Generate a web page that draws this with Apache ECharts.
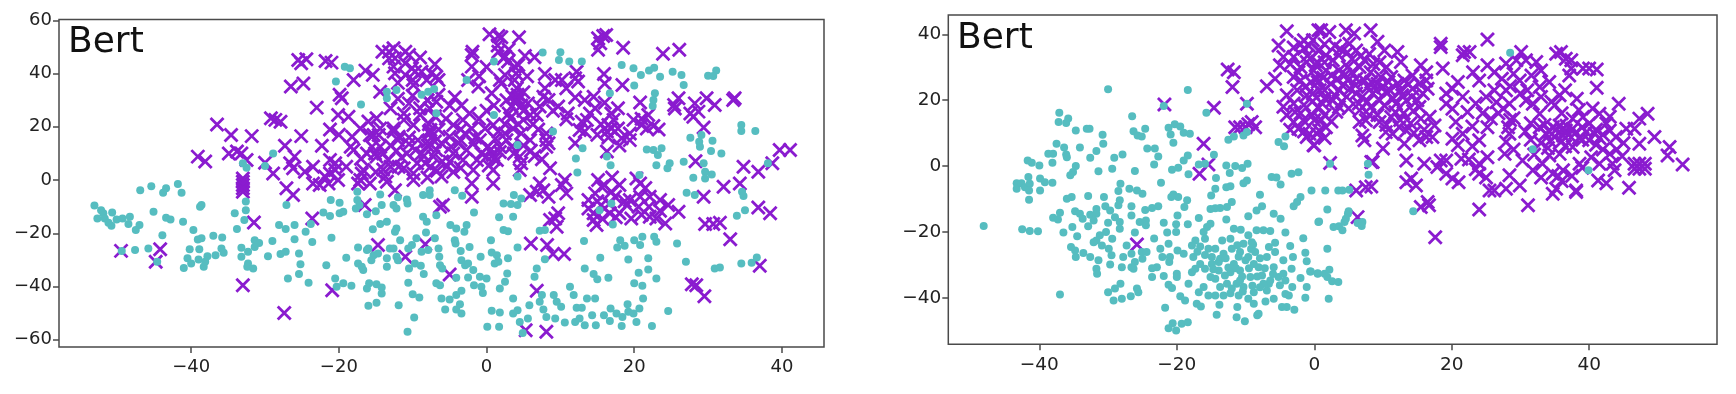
<!DOCTYPE html>
<html><head><meta charset="utf-8">
<style>html,body{margin:0;padding:0;background:#fff}#c{width:1736px;height:394px}</style>
<script src="https://cdn.jsdelivr.net/npm/echarts@6/dist/echarts.min.js"></script>
</head><body><div id="c"></div>
<script>
const panelLabel = 'Bert';
const leftXTicks = [-40,-20,0,20,40];
const leftYTicks = [-60,-40,-20,0,20,40,60];
const rightXTicks = [-40,-20,0,20,40];
const rightYTicks = [-40,-20,0,20,40];
const leftCircles = [[-53.1,-9.6],[-52.2,-11.3],[-51.9,-12.5],[-52.7,-14.4],[-51.7,-14.4],[-51.2,-16],[-50.7,-12.2],[-50.8,-17.2],[-50.1,-14.8],[-49.3,-14.4],[-48.3,-13.8],[-48.5,-16.5],[-47,-16.9],[-47.5,-18.8],[-47.6,-26.3],[-49.4,-26.6],[-46.9,-3.8],[-45.4,-2.3],[-43.4,-3.1],[-43.8,-4.8],[-41.8,-1.5],[-41.3,-4.8],[-45.1,-11.9],[-43.4,-14.2],[-42.8,-14.8],[-41.1,-15.7],[-38.6,-9.4],[-38.8,-10],[-39.7,-18.8],[-43.9,-20.7],[-45.8,-25.7],[-44.6,-30.7],[-40.2,-26],[-38.9,-26],[-39.1,-22.3],[-38.6,-21.9],[-37,-20.9],[-35.8,-21.6],[-35.9,-25.7],[-35.6,-27.3],[-36.7,-28.2],
[-41,-33],[-40.5,-29.4],[-40,-31.3],[-39,-29.8],[-38.3,-32.6],[-38.1,-30.7],[-37.8,-28.6],[-33.2,-25.4],[-33.2,-28.8],[-32.3,-26.9],[-31.4,-22.6],[-30.8,-23.6],[-31.4,-25.1],[-32.3,-31.3],[-32.4,-32.6],[-31.6,-33.2],[-29.6,-28.6],[-29,-22.9],[-27.9,-27.8],[-27.2,-26.9],[-28.1,-16.9],[-27.2,-18.4],[-26,-16.9],[-26,-22.2],[-25.4,-27.6],[-25.2,-31.6],[-25.4,-35.3],[-26.9,-37],[-24.1,-38.6],[-24.5,-19.4],[-23.8,-16.5],[-23.6,-23.3],[-21,-21.7],[-22.1,-12.2],[-21.2,-13.5],[-19.9,-12.5],[-19.4,-11.9],[-21.1,-7.5],[-19.9,-8.5],[-27.1,-9.4],[-34.1,-12.5],[-32.8,-15],[-33.8,-18.4],[-32.6,-11.3],[-32.6,-8.1],[-33,6.3],[-32.5,4.6],[-28.9,10],[-30,5.3],[-19.2,42.6],[-18.5,42],[-20.4,37],[-17,28.4],[-13.5,33.2],[-13.5,30.7],[-12.2,33.8],[-8.8,32],[-7.9,33.2],
[-17.5,-4.4],[-17.5,-7.5],[-17.7,-10.7],[-17.2,-9.4],[-16.2,-12.8],[-15,-11.7],[-14.4,-5.4],[-14.2,-9.4],[-12.6,-9.4],[-12.2,-10.7],[-12,-6.5],[-10.8,-7.3],[-10.7,-8.8],[-8.6,-13.8],[-8.1,-15.7],[-7.7,-5.6],[-8.6,-5.6],[-13.5,-15.7],[-14.4,-16.5],[-15.4,-18.5],[-12.2,-18.2],[-12.4,-19.4],[-11.7,-22.6],[-9.5,-21.9],[-10.1,-24.4],[-10.6,-25.7],[-8.2,-19.7],[-8.8,-26.9],[-7.9,-26.3],[-17.4,-25.3],[-16.2,-26.3],[-16,-25.7],[-15.3,-28.2],[-14.7,-27.6],[-15.6,-30.1],[-13.5,-29.4],[-13.5,-32.6],[-13.1,-25.7],[-12.6,-25.7],[-12.2,-28.8],[-12,-30.1],[-19,-29.2],[-17.4,-31.3],[-16.9,-32.6],[-16.7,-33.8],[-21.7,-32],[-20.5,-37],[-20.3,-40.1],[-19.4,-38.8],[-18.3,-39.7],[-16.2,-40.7],[-15.9,-38.8],[-14.9,-39.1],[-14.2,-40.4],[-14.2,-42.6],[-16,-47.2],[-14.9,-46.1],[-11.9,-47],[-10.6,-38.6],[-10,-42.9],[-9.1,-44.1],[-9.8,-51.6],[-10.7,-57],[-10.5,-33.2],[-9.7,-31.3],[-8.9,-32.2],[-8.5,-35.3],
[7.6,47.9],[10,48],[9.8,45.1],[11.2,44.5],[12.9,44.5],[18.3,43.2],[19.9,42],[20.9,39.5],[22,41.1],[22.7,42.2],[23.5,38.8],[25.2,40.7],[26.4,39.5],[20,35.5],[26.7,35.7],[30,39.2],[31.1,41.1],[30.7,39.1],[1,44.5],[-2.7,37.6],[-7.1,34.2],[-6.8,25.1],[1,24.4],[16.7,32.6],[22.8,32.6],[22.6,30.1],[22.5,27.8],[9,18.2],[4.2,13.2],[13,11.9],[12.1,8.1],[16.3,8.8],[16.8,5.6],[4.2,1.3],[12.3,2.8],[21.7,11.5],[22.6,11.3],[23.7,11.9],[23.2,9.4],[23,5.6],[24.8,6.3],[24.5,4.4],[26.7,6.9],[27.6,15.9],[29.1,16.9],[28.8,14.4],[28.9,12.5],[30.6,14.8],[30.4,10.9],[31.8,10],[29.4,6.3],[29.6,3.1],[30.5,2.1],[29.6,0.6],[28,0.9],[27.1,-4.8],[28.2,-5.6],[34.5,20.7],[34.5,18.4],[36.4,18.4],[38.1,6.3],[34.6,-4.4],[34.8,-6],[35,-11.3],[33.9,-13.4],[34.5,-31.3],[35.9,-31.1],[36.6,-29.1],[30.9,-33.2],[31.6,-32.8],[27,-30.7],[25.8,-23.8],[24.6,-49.2],[20.7,1.9],[16.9,-8.8],[15.3,-11.3],[17.1,-16.7],[13.2,-22.9],[18.1,-22.6],[18.7,-24.7],[17.7,-25.3],[20,-22.6],[21.1,-21.3],[20.8,-24.4],[22.7,-21.3],[23,-23.2],[15.4,-29.2],[13.3,-33.2],[14.5,-35.3],[15,-37.3],[16.5,-36.7],[19.2,-29.8],[21.9,-29.4],[21.9,-33.6],[20.6,-34.8],[23,-37],[20,-38.8],[21.1,-39.7],[21.2,-44.5],
[11.3,-40.1],[11.8,-43.2],[13.6,-44.5],[14.7,-44.5],[9.1,-43.2],[9.5,-45.7],[10.1,-47.6],[7.5,-43.2],[7.2,-45.7],[7.7,-48.6],[8.1,-51.4],[9.3,-52],[10.6,-53.5],[12.2,-48],[12.9,-48],[12,-53.3],[12.6,-52],[13.3,-54.5],[14.3,-50.8],[14.8,-54.5],[15.9,-50.8],[16.7,-52.9],[16.8,-48.2],[17.6,-50.1],[18.3,-54.8],[18.4,-51.4],[19.1,-46.6],[19.2,-49.5],[19.9,-50.1],[20.3,-53.3],[20.7,-48.2],[22.4,-54.8],[0.1,-55.1],[1.7,-55.1],[0.7,-49.1],[1.8,-49.7],[3.6,-50.1],[4.2,-48.9],[4.5,-53.3],[5.6,-52],[5.8,-47],[4.9,-57.4],[3.6,-44.5],[6.8,-33.2],[6.5,-36.3],[7.9,-29.7],[4.2,-25.3],[2.9,-29.4],[0.6,-22.6],[-2.3,-25.1],[-0.8,-28.8],[0.7,-27.2],[1.4,-28.2],[1.1,-31.3],[1.6,-30.7],[2.8,-35.1],[2.5,-38.2],[1.8,-40.7],[-0.9,-36.3],[0,-37],[-1.8,-33.8],[-2.5,-36.6],[-1.7,-39.5],[-0.7,-40.1],[-0.5,-42.4],[-3.4,-41.6],[-4.1,-43.2],[-5,-44.9],[-6.1,-44.5],[-5.6,-48.6],[-3.6,-46.6],[-4.1,-48.6],[-3.4,-50.1],[-6.5,-25.7],[-6.4,-28.8],[-6.3,-32],[-6,-33.2],[-7,-21.9],[-4.3,-22.6],[-4.2,-23.8],[-3.5,-26.6],[-3.4,-30.1],[-2.9,-32],[-2.5,-31.3],[-4.1,-36.7],[-6.8,-38.8],[-6.3,-39.5],[-4.9,-16.9],[-4.1,-18.2],[-2.7,-16.9],[-3,-19.4],[-1.7,-12.2],[-4.3,-3.8],[-3.3,-5.9],[-6.8,-13.2],[-7.7,-3.8],[2.3,-8.8],[3.3,-9],[4.2,-9.4],[3.7,-5.6],[4.7,-6.9],[1.7,-14],[3.6,-13.8],[2.3,-18.8],[2.9,-19.2],[7.2,-19],[7.9,-18.8]];
const leftCrosses = [[-49.5,-26.6],[-44.2,-26],[-44.8,-30.7],[-39.1,8.8],[-38.1,7],[-36.5,20.9],[-34.6,16.9],[-31.8,16.5],[-34.9,10],[-33.8,10.7],[-33.2,10],[-32.5,7.5],[-33,0.6],[-33,-0.6],[-33,-1.9],[-33,-3.1],[-33,-4.4],[-31.5,-15.9],[-33,-39.5],[-27.4,-49.9],[-30,6.5],[-28.9,2.5],[-27.1,-3.1],[-26.2,-5.6],[-29.2,23.2],[-28.6,22.6],[-27.9,21.9],[-27.3,12.9],[-26,8.8],[-26.6,6.3],[-26.2,4.4],[-25.1,16.5],[-24.6,3.1],[-23.5,5],[-23.5,-1.3],[-22.3,12.9],[-22.6,-1.9],[-21.9,1.3],[-21.2,2.5],[-21.4,-1.3],[-20.5,3.8],[-20.1,0],[-21.2,7.5],[-20.5,6.3],[-23.6,-14.4],[-14.7,-24.4],[-16.5,-9.4],[-20.9,-41.4],[-11,-28.8],[-8.3,-24.1],[-26.5,35.1],[-24.8,36.3],[-25.5,45.1],[-24.4,45.4],[-25.1,43.9],[-21.8,44.7],[-21,44.1],[-23,27.2],[-19.9,32],[-19.6,30.7],[-18,37.6],[-16.4,41.1],[-15.4,39.5],[-14.4,33.2],[-14.1,48.2],[-13.2,48.2],[-12.6,49.5],[-13.2,45.7],[-12.4,45.7],[-12.6,42.6],[-11,48.2],[-10.5,47],[-11,43.9],[-10.1,42],[-9.7,40.7],[-8.8,40.7],[-10,37.6],[-8.1,37.6],[-12.4,40.1],[-9.9,35.7],[-20.1,24.4],[-18.7,23.8],[-21.2,19],[-17.1,19.4],[-18.2,16.3],[-15.3,16.9],[-18,11.3],[-18.4,12.5],[-14.9,23.2],[-14.4,19.4],[-15.8,16.9],[-14.6,16.9],[-12.6,18.2],[-11.2,25],[-10.5,28.8],[-11.2,22.6],[-9.9,20.7],[-12.6,19.4],[-11.9,16.3],[-7.8,18.2],[-7.6,18.8],[-19,5],[-16.9,2.5],[-17.1,0],[-17.4,-1.3],[-16.7,3.8],[-16.2,10],[-15.1,10],[-14.4,12.5],[-15.8,-1.3],[-14.9,8.8],[-14,10],[-13.3,7.5],[-13.7,1.3],[-13.5,-0.6],[-12.4,-3.8],[-11.9,5],[-10.8,10],[-9.6,11.3],[-9.9,0],[-9.9,2.5],[-9.4,6.3],[-8.3,6.3],[-11.2,4.4],[-7.6,5],
[0.4,54.8],[1.6,54.1],[2,53.6],[4.4,53.6],[-1.9,48.2],[-2,47],[-2,42.6],[1.6,48.2],[2.3,45.7],[2.9,44.5],[3.8,42.6],[5.2,46.6],[6.5,46.1],[4.3,43.2],[15.1,53.3],[15.8,54.1],[16.2,54.5],[15.4,51.4],[15.1,48.9],[18.5,49.7],[23.9,47.4],[26.1,48.9],[15.9,39.8],[16,36.3],[18.4,35.7],[-6.8,38.8],[-7.5,40.1],[-6.5,37.6],[-2.5,37.6],[-1.1,35.1],[0.7,32.6],[1.8,37.6],[2,36.3],[3.8,37.6],[4.1,34.5],[7.9,39.8],[9.3,37.6],[10.2,37.6],[10.8,34.5],[12.2,40.7],[12,38.2],[12.4,37],[7.9,34.5],[-4.3,31.1],[-6.8,29.4],[-7.7,26.9],[4.1,30.7],[4.3,30.1],[3.4,27.6],[5.6,28.8],[7.2,27.6],[7.7,31.3],[8.4,30.1],[9.7,27.6],[13.3,30.1],[14.5,31.3],[20.8,29.1],[25.4,28.2],[26,30.7],[25.5,26.9],[28.2,28.8],[27.6,25],[28,23.8],[28.7,25.7],[29.8,30.7],[30.9,28.2],[33.6,30.7],[33.4,30.1],[10.8,22.8],[29.4,19.7],[14,25],[13.6,22.6],[12.9,21.9],[12.6,18.8],[13.3,18.2],[12,13.8],[16.9,25],[17.2,22.6],[16.5,20.7],[16.9,19.4],[16.3,18.2],[17.8,19.4],[18.3,15.7],[19.4,15],[19.9,22.6],[21,20.7],[21.9,24.4],[21.7,19.4],[22.6,20.3],[19.4,17.5],[16.3,10.7],[-2.3,25],[-3.2,22.6],[-4.5,20.7],[-3.8,13.8],[-5,16.3],[-2.9,17.5],[-2,19.4],[-0.2,19.4],[0.9,20.7],[3.2,23.2],[1.6,18.2],[2.5,17.5],[3.6,19.4],[5,22.6],[5.9,24.4],[4.7,17.5],[5.9,15],[6.8,24.4],[8.1,17.5],[8.1,15],[8.1,12.5],[8.4,13.8],[-0.7,10],[0,8.8],[0.9,9.4],[1.8,12.5],[2.7,15],[3.4,12.5],[0.2,12.5],[-0.9,15],[-1.8,13.8],[-2.7,11.3],[-3.2,7.5],[-1.8,3.8],[-2,-1.3],[-2,-6.3],[0.9,3.8],[0.9,-1.3],[1.4,7.5],[4.5,8.8],[4.7,6.3],[4.5,3.8],[7.5,7.8],[8.6,4.4],[-6.1,13.8],[-7.7,17.5],[-6.8,11.3],[-7.2,8.8],[-5,6.9],[-6.1,1.3],[-5.4,5],[-5.9,-9.4],[-6.3,-10],[10.6,0],[10.2,-1.9],[10.8,-5],[7.2,-1.3],[6.8,-4.4],[7.7,-3.8],[8.4,-6.3],[5.9,-5.6],[15.1,0],[15.6,-2.5],[14.7,-5],[13.8,-7.5],[13.8,-10.7],[14.5,-12.5],[14.9,-16.9],[14.5,-15],[16.9,-4.4],[18,-1.9],[17.4,-6.3],[16.7,-12.5],[18,-12.5],[19.6,-14.4],[20.3,0.6],[20.8,-1.3],[19.4,-7.5],[20.8,-6.3],[20.6,-10],[22.1,-6.3],[23.5,-7.5],[24.6,-9.4],[26,-11.9],[22.1,-13.8],[24.2,-16.3],[23,-14.4],[9.7,-12.5],[9.3,-14.4],[9.5,-17.5],[8.6,-15],[29.4,-6.3],[32.1,-2.5],[34.3,-1.3],[34.8,5],[36.8,3.1],[38.7,6.3],[39.7,11.3],[41.1,11.3],[36.8,-10.3],[38.4,-12.5],[29.6,-16.5],[30.7,-16.5],[31.6,-16],[33,-22.2],[28.3,7.1],[37,-32.2],[27.8,-39.1],[28.4,-39.5],[29.5,-43.6],[6,-23.8],[8.2,-24.4],[9,-27.8],[10.5,-27.8],[6.8,-41.6],[5.3,-56.4],[8.1,-57],[-5,-35.5],
[-7,24],[-5.5,23],[-5,28],[-3.4,28],[-3.5,19],[-6.5,19],[-1,23],[0,26],[1,28],[2.7,30],[3.5,31.5],[4.2,32],[5,33],[3.9,29],[4.7,28],[3,25],[5,26],[6.3,21],[7,19],[2.5,21],[4.3,21],[1.2,15.5],[0.6,11.5],[1,8],[-1.3,7.5],[0.3,5.5],[1.8,10.5],[3.7,10],[5,13],[6,11],[6.5,9],[-4.5,10],[-4.8,12.5],[-3.5,15],[-1.5,16],[-8,13],[-8.5,9],[-7,14.5],[-6,7],[-4.5,3],[-6.7,3.5],[-8,1],[-3.5,4.5],[-8,30],[-9,27],[-9,24.5],[-6.5,32],[-1,39],[2.5,39.5],[4,40],[5.5,39],[0,42.5],[2.5,46.5],[3,49],[1.5,50.5],[9,26],[11,25],[12,31],[14.7,27],[16,29],[16.5,16],[18,13],[21,23],[23.3,19],[17.8,27],[15,17],[15.5,21],[21.5,-3],[18.7,-8],[16.6,-9],[15.5,-9.5],[15,-8],[21,-13],[17.5,-14],[15.7,-14.5],[16,-2],[17,1],[19,-9.5],[22,-10],[23.5,-11.5],[-12,15],[-10.5,16],[-13,13],[-12.2,11],[-11.5,8.5],[-13,5],[-14,4],[-15,3],[-8.8,10],[-8,14.5],[-7.8,21],[-9.3,15],[-15.5,12.5],[-17,8],[-20,17],[-10.5,13.5],[-16,22],[-13,27],[-12,30.5],[-10,31.7],[-8,30],[-12,36.5],[-11,39.5],[-9,46],[-7,43.5]];
const rightCircles = [[-48.1,-18.2],[-42.5,-19.2],[-41.4,-19.7],[-40.2,-19.8],[-37,-39],[-30,23.3],[-18.4,23.1],[-21.9,18.2],[-37.1,16.2],[-37.2,13.4],[-36.1,13.1],[-35.8,14.4],[-34.7,10.8],[-33.1,11.3],[-32.7,11.3],[-30.8,9.5],[-30.7,6.8],[-31.7,4.6],[-32.6,2.5],[-34.1,5.6],[-37.5,6.8],[-36.4,5.6],[-38.7,3.7],[-38,3.7],[-36.1,3.5],[-36,2.7],[-38.1,1],[-41.7,1.7],[-41.1,1],[-40,0.2],[-41.6,-3.3],[-43.3,-5.2],[-43.3,-6.9],[-42.6,-5.2],[-42.1,-6.4],[-41.4,-5.4],[-41.5,-7.4],[-41.5,-10.2],[-39.9,-3.8],[-39.9,-7.4],[-39.2,-4.9],[-38.1,-5.1],[-34.7,0],[-35.1,-1.8],[-35.5,-2.8],[-31.4,-1.6],[-29.4,-0.8],[-29.1,2.5],[-27.9,3.5],[-26.1,-1.5],[-26.5,15.1],[-26.3,10.6],[-25.7,9.3],[-25.1,9],[-24.6,11.3],[-21.2,11.6],[-20.3,12.7],[-19.5,12],[-19,10.1],[-18.1,9.8],[-20.9,9.6],[-20.5,7.1],[-24.3,5.3],[-23.2,5.3],[-22.7,2.9],[-23.3,0.5],[-20.7,-1.1],[-19.8,-0.5],[-19,1.7],[-18.4,3.2],[-18.3,-2.5],[-16.8,0.5],[-15.9,0.7],[-15.7,16.2],[-12.5,8],[-11.7,9],[-10.3,9.3],[-9.8,10.3],[-9.8,18.9],[-14.6,3.4],[-14.3,-3.6],[-12.8,0.2],[-12.3,-2.1],[-11.5,0],[-10.5,-0.6],[-9.7,0.7],[-9.8,-4.4],[-10.3,-5.2],[-12.2,-6.1],[-12.8,-6.4],[-14.4,-6.9],[-15,-8.9],[-5.2,7.3],[-4.2,9],[-4.4,6],[-6.2,-3.3],[-5.5,-3.5],[-4.9,-5.6],[-3.3,-2.3],[-2.3,-1.9],[-0.4,-7.4],[-2,-9.4],[-2.5,-10.9],[-3,-12.2],[-7.9,-8.7],[-7.6,-12.2],[-8.4,-13.5],[-9.6,-15.2],[-5.9,-14.5],[-4.9,-16],[0.6,-17],[-1.6,-21.9],[-1.3,-26.3],[-1.1,-28.9],[-0.6,-32],[0.5,-32.7],[-1.1,-36.7],[-1.3,-40],[-2,-34],[-3.1,-27.6],[-3.5,-24.3],[-4.2,-20.2],[-3.3,-31.2],[-4.5,-28.6],[-5.7,-23.3],[-5.7,-26.1],[-6.4,-19.7],[-7.4,-19.5],[-8.4,-19.5],[-9.6,-21],[-10.7,-19.3],[-11.7,-19],[-12.7,-12.4],[-12,-10.9],[-12.8,-16.2],[-13.7,-12.7],[-14.4,-12.8],[-15.1,-13],[-18.5,-10.4],[-18.9,-12.4],[-19.9,-15],[-20.5,-8.6],[-19.8,-9.4],[-20.8,-9.4],[-22.3,-5.1],[-22.7,-12.2],[-23.6,-12.7],[-24.6,-13.3],[-25,-8.4],[-25.8,-7.4],[-26.9,-6.9],[-28.2,-5.4],[-28.5,-7.6],[-28.3,-10.4],[-28.5,-11.9],[-26.6,-12.2],[-26.6,-15],[-25.4,-17],[-24.5,-16.5],[-24.5,-18],[-30.6,-9.4],[-32.9,-9.1],[-35.3,-9.4],[-36,-9.9],[-34.8,-13.7],[-34.1,-14.5],[-33.7,-16],[-37,-14.2],[-38,-15.7],[-37.3,-16.2],[-32.6,-14.8],[-31.7,-13],[-30.4,-12.2],[-29.7,-13.5],[-29,-15.5],[-28.3,-17],[-28.3,-19],[-30,-17.2],[-31.7,-14.5],[-32.1,-16.5],[-32.9,-18.3],[-35.2,-18.5],[-36.5,-20.2],[-34.5,-21.3],[-26.1,-20.2],[-21.9,-17.2],[-20.1,-17.7],[-18.4,-17.7],[-16.8,-15.8],[-21.4,-20.2],[-20.1,-20],[-23.3,-22],[-21.2,-23.6],[-19.9,-25.6],[-19,-26.6],[-31.2,-21],[-31.7,-22.6],[-32.1,-23.1],[-30.3,-20],[-29.4,-22.1],[-30.9,-24.1],[-29.9,-25.1],[-29.5,-27.1],[-35.4,-24.6],[-34.8,-25.6],[-34.7,-27.6],[-33.6,-26.4],[-32.6,-27.6],[-31.4,-28.6],[-31.7,-31.2],[-31.6,-32.7],[-29.7,-29.9],[-27.8,-27.6],[-26.6,-26.6],[-27.3,-24.1],[-26.6,-30.7],[-26.1,-29.1],[-28,-30.7],[-26.3,-31.2],[-25,-28.1],[-25.1,-26.1],[-24.4,-26.1],[-28.2,-35.7],[-29,-37.2],[-30,-38.3],[-29.2,-40.8],[-28,-40.3],[-26.7,-39.5],[-25.8,-37.2],[-25.6,-38.3],[-23.6,-33.7],[-21.9,-33.4],[-22.9,-30.7],[-23.6,-31],[-22.4,-25.1],[-22.1,-27.6],[-21.1,-29.1],[-21,-27.6],[-20,-32.7],[-20,-33.7],[-21.2,-36],[-20.7,-37],[-19.5,-39.5],[-18.8,-40.8],[-21.7,-43],[-17.1,-41.8],[-16.5,-42.6],[-21.2,-49.2],[-20.6,-47.7],[-20.1,-49.9],[-19.3,-47.9],[-18.4,-47.4],[-14.2,-45.1],[-11.3,-45.9],[-11.2,-42.8],[-10.1,-47.1],[-8.3,-45.3],[-8.1,-44.8],[-13.8,-42.1],[-15.4,-39.3],[-14.4,-39.3],[-13.2,-39.3],[-12.2,-38.6],[-11,-39.3],[-9.6,-40.3],[-8.8,-38.3],[-8.8,-41.8],[-7.1,-41.1],[-4.7,-42.8],[-4,-42.8],[-2.9,-43.6],[-5.9,-40.3],[-4.2,-38.8],[-3.7,-39.3],[-5,-36.2],[-3.2,-36.7],[-6.9,-37.8],[-6.6,-35.7],
[-15.6,-18.5],[-15.1,-17.5],[-16.1,-20],[-15.9,-22.1],[-15.4,-25.1],[-14.4,-25.1],[-13.4,-22.6],[-12.2,-22.1],[-12,-25.1],[-13.2,-26.6],[-13.9,-29.1],[-14.9,-29.7],[-13.9,-31.7],[-13,-33.2],[-12.2,-32.2],[-11.7,-29.7],[-10.8,-26.1],[-10.3,-23.6],[-9.1,-23.1],[-8.6,-26.1],[-8.8,-29.7],[-8.1,-30.7],[-7.6,-33.2],[-7.4,-35.7],[-9.3,-33.7],[-10.3,-36.7],[-11.3,-35.7],[-10.8,-31.7],[-10,-28.6],[-9.6,-27.6],[-6.9,-27.6],[-6.6,-24.6],[-5.9,-30.7],[-6.4,-34.7],[-5.2,-33.7],[-4.5,-32.7],[-4.2,-34.7],[-17.3,-22.6],[-17.8,-24.1],[-17.6,-27.6],[-16.6,-29.7],[-15.9,-31.2],[-15.1,-33.7],[-14.4,-34.2],[-17.8,-32.2],[-17.3,-31.2],[-18.3,-35.7],[-16.8,-38.3],[-16.1,-36.7],[-13.7,-36.7],[-12.7,-35.7],[-14.9,-27.6],[-13.7,-28.1],[-12.9,-28],[-11.4,-31],[-10.5,-33.5],[-9.5,-31],[-8.3,-33.5],[-7.9,-28],[-7.2,-31],[-11.2,-24],[-11,-27.5],[-9.2,-25.2],[-12.5,-30.8],[-14.7,-31.3],[-16.6,-24.4],[-17,-26],[-15.9,-27],[-7.9,-36.8],[-9,-36.3],[-10.8,-34.7],[-6,-32.8],[-8.9,-23.8],[-10.4,-38.1],[-12,-37.2],
[1.6,-7.4],[3.5,-7.4],[4.1,-7.4],[5.1,-7.2],[7.8,0.7],[7.9,-2.6],[2.3,0.7],[1.9,-13.2],[0.7,-16.8],[2.8,-18.5],[3.6,-18.3],[4.1,-19.5],[4.4,-17],[4.9,-14.5],[5,-13.7],[4.6,-16],[6.3,-17.3],[7,-17],[6.9,-18.2],[14.4,-13.7],[28.5,34.4],[31.8,5.1],[39.9,-1.3],[1.9,-25.1],[-0.5,-32],[0.5,-32.5],[1.5,-32.7],[2.2,-31.5],[1.9,-33.7],[2.6,-35],[3.5,-35.2],[2.1,-40.3]];
const rightCrosses = [[-25.8,-23.8],[-21.8,18.7],[-9.8,18.9],[-14.6,17.7],[-16.1,6.8],[-15.4,0.5],[-16.7,-2.3],[-12.6,29.3],[-11.7,28.5],[-11.9,24],[-11.5,11.8],[-10.8,11.8],[-10,11.8],[-9.6,12.7],[-9.1,13.4],[-8.6,11.8],[-6.9,24.2],[-5.7,26.5],[-4,21.5],[-4,40.9],[-5.2,36.6],[-4.5,33.1],[-5,30.6],[-3,33.1],[-1.5,38.2],[-1.5,35.6],[-2.3,28.5],[-1.1,31.6],[0.6,41.2],[0.6,35.1],[0.4,31.6],[-0.1,29],[-1.3,24],[0.4,26.5],[-4,15.4],[-2.8,16.4],[-3,13.4],[-1.6,13.9],[-2.3,11.3],[-1.1,8.8],[-0.1,6.3],[0.4,9.8],[-0.3,15.4],[0.6,17.9],[-1.1,21.5],
[1,41.2],[2.2,40.7],[4.6,41.2],[5.8,40.2],[8.2,41.2],[9.2,37.7],[10.2,35.1],[12.1,34.6],[12.6,31.6],[-0.2,38.2],[0.7,35.1],[1.7,33.6],[2.7,32.1],[3.6,33.6],[5.1,37.1],[6.1,35.1],[7.3,32.1],[6.6,30.1],[4.9,30.1],[3.6,29],[1.7,29],[0.2,30.6],[0.5,25.5],[2.4,25],[3.4,26.5],[4.1,24.5],[4.9,26],[6.1,26.5],[7.3,26],[8.3,25.5],[9.2,25],[9.7,27],[11.2,27],[12.1,25],[13.1,26],[10.4,22.5],[9,23],[7,21],[6.1,22],[3.6,23],[15.5,30.6],[16.3,28.5],[14.3,27.5],[15.3,25],[16.3,26],[14.3,23.5],[15.8,22],[13.4,19.9],[11.9,18.9],[15.3,17.9],[10.2,18.4],[8.2,17.9],[6.6,16.9],[7.5,13.9],[6.6,13.4],[9.5,13.4],[11.2,14.9],[12.4,11.8],[13.4,10.8],[15.5,14.4],[17.5,12.3],[16.3,8.8],[17.2,8.8],[15.3,7.8],[13.1,6.8],[10.4,10.3],[7,9.3],[10,5.3],[7.3,7.8],[13.4,1.7],[8.5,1.2],[11.4,9.8],[18.4,37.1],[18.4,36.1],[18.7,29.6],[21.8,34.6],[22.6,34.6],[21.6,33.6],[25.2,38.4],[20.9,25.5],[20.1,23.5],[19.2,22],[19.2,18.9],[20.1,17.4],[21.6,21],[22.3,16.4],[20.6,13.4],[21.6,9.8],[20.1,8.3],[20.9,6.3],[21.4,2.2],[19.2,1.7],[18.4,1.7],[17.9,-0.3],[16,0.7],[19.2,-2.3],[20.1,-3.8],[21,-4.9],[23.1,28.5],[24,26],[25.2,30.6],[26.2,23],[26.2,28.5],[27.9,31.1],[29.4,32.1],[30.1,34.6],[30.8,32.1],[32.3,31.6],[29.9,26],[31.6,27.5],[32.8,24],[34.2,25.5],[35.7,21.5],[30.8,19.9],[27.9,23],[26.5,19.4],[28.4,18.9],[31.8,18.9],[32.8,15.9],[25.7,14.4],[25.2,11.8],[24,7.8],[25.2,2.7],[24,0.7],[24,-2.3],[28.2,11.8],[28.4,9.8],[27.9,7.3],[27.7,3.7],[30.3,1.7],[31.8,-1.3],[28.4,-2.8],[29.9,-5.9],[27.9,-6.9],[31.1,-11.9],[24,-13.2],[25.5,-7.4],[26.2,-7.4],[35.2,34.1],[35.9,34.6],[36.6,32.6],[37.4,32.1],[37.1,27.5],[37.4,29.6],[39.1,29.6],[40,29.6],[41.1,29.3],[41.1,23.8],[38.2,20.4],[44.3,18.9],[48.5,15.9],[47.3,14.4],[32.8,11.8],[33.7,9.8],[34.7,11.8],[35.7,12.3],[36.6,10.8],[35,8.8],[36.2,9.3],[37.6,11.3],[40,12.9],[39.6,10.3],[40.8,9.8],[40,7.8],[41.5,15.9],[39.1,14.9],[37.6,14.4],[42.5,12.9],[43.9,8.8],[45.4,11.3],[46.6,11.3],[47.3,6.8],[49.5,8.8],[51.7,5.8],[51.4,3.2],[53.6,0.5],[37.6,5.8],[35.7,3.7],[34.2,3.2],[33.2,0.7],[34.7,-2.3],[36.2,-1.3],[38.6,0.7],[40.3,2.7],[41.5,0.7],[43.4,0.7],[43,3.7],[43.7,-1.3],[41.3,-4.4],[42.5,-5.2],[38.1,-7.4],[38.1,-7.9],[34.7,-8.4],[35.2,-6.9],[45.8,-6.6],[46.6,0.7],[47.3,0.7],[48.1,0.7],[46.6,-0.8],[47.3,-0.8],[48.1,-0.8],[13.4,-4.9],[14.1,-3.8],[14.8,-5.9],[15.5,-12.4],[16.5,-10.9],[16.7,-11.9],[17.6,-21.6],[6.3,-15.5],[6.1,-7.4],[7.5,-6.4],[8.3,-6.2],[8.3,1.2],[2.3,0.9],[0,6.3],[-0.7,9.8],[0.7,10.8],[1.5,15.4],[1.7,11.8],[0,13.9],[1.2,18.9],[3.6,17.9],[-0.2,22],
[1.5,37],[3,36.5],[3.8,35.5],[4.8,34.5],[5.5,32.5],[6.8,33.5],[8,34],[8.6,31],[9.5,31.5],[10.5,30],[8.2,28.5],[5.5,28.5],[4.5,27.8],[2.5,27.5],[1.3,26.8],[1.5,23],[3,21.5],[4.7,21],[5.2,23.5],[6,24.5],[7.8,24],[8.5,22],[10,24],[10.8,25.5],[11,23],[12.5,23],[13.7,24.8],[12.8,21.5],[14.2,21],[11.5,20.5],[9.5,20],[7.7,19.5],[6.5,19],[16.5,23.5],[15,20],[14.4,16.7],[13,16],[11.8,16.3],[9.2,15.5],[8,15.5],[10.5,12.5],[12.5,14],[14,13],[16.8,15],[14.5,10],[16,11],[-2,30],[-3,27],[-2,26],[-0.5,25.5],[0.8,23],[1.5,20.5],[-3,19],[-1.5,18.5],[-0.3,19.5],[-2.5,23],[-4.5,18],[-2,37],[-3,36],[-3.5,31],[-1,33.5],[-0.8,36.5],[1.5,31.5],[-1.5,10.5],[-3.5,11],[1.5,8.5],[-2,16],[2.7,20],[4,19.5],[3.2,16.5],[5,17.5],[1,14],[2.5,13.5],
[33.5,12.5],[34.2,10.5],[35.2,11],[36,11],[36.7,12.2],[37,9.5],[38,10],[38.5,8.5],[39,11.8],[39,8],[41,11],[41.5,8.5],[41,6.5],[42,9.5],[43,10.8],[34.3,7.5],[36,7.5],[33,7],[31.5,8],[34,5.5],[36.5,6],[42,5],[44,5],[45,7],[44.8,3],[31.5,13],[30.7,10.5],[29,14.5],[26.8,16],[30,22],[33,21],[35,18.5],[36,16],[38.5,17],[40.5,17.5],[43,15],[32,3.5],[29,5],[33,-3.5],[36,-4.5],[35.5,-3],[37.5,-3],[39,-0.5],[28.5,14],[23,12],[23,6],[22.5,2],[23.5,-1],[25,-3.5],[27.5,17.5],[25,21],[23.5,19],[24.5,16],[29,28],[27.3,26.5],[28.5,24.2],[31,23],[33,29],[36.5,23],[34.5,19.5]];

const teal = '#56bdc0', purple = '#8a1bcf', frame = '#4a4a4a', tickText = '#222';
const crossPath = 'path://M0 0L10 10M10 0L0 10';
const minusFmt = v => String(v).replace('-', '\u2212');
function axis(idx, min, max, ticks, fontSize, margin) {
  return {
    gridIndex: idx, type: 'value', min, max, splitLine: {show:false},
    axisLine: {show:false, onZero:false},
    axisTick: {show:true, length:6, customValues:ticks, lineStyle:{color:frame, width:1.5}},
    axisLabel: {show:true, customValues:ticks, formatter:minusFmt, color:tickText, fontSize,
      fontFamily:'DejaVu Sans', margin, showMinLabel:true, showMaxLabel:true, hideOverlap:false}
  };
}
function series(idx, crosses, circles) {
  return [
    {type:'scatter', xAxisIndex:idx, yAxisIndex:idx, data:crosses, symbol:crossPath, symbolSize:13,
      itemStyle:{color:'none', borderColor:purple, borderWidth:2.8, opacity:1}, silent:true, z:2, animation:false, large:false},
    {type:'scatter', xAxisIndex:idx, yAxisIndex:idx, data:circles, symbol:'circle', symbolSize:8,
      itemStyle:{color:teal, opacity:1}, silent:true, z:3, animation:false, large:false}
  ];
}
const chart = echarts.init(document.getElementById('c'), null, {renderer:'canvas'});
chart.setOption({
  animation:false, backgroundColor:'#fff',
  title:[
    {text:panelLabel, left:68, top:25, padding:0, textStyle:{fontFamily:'DejaVu Sans', fontSize:36, fontWeight:'normal', color:'#111'}},
    {text:panelLabel, left:957, top:21, padding:0, textStyle:{fontFamily:'DejaVu Sans', fontSize:36, fontWeight:'normal', color:'#111'}}
  ],
  grid:[
    {left:59, top:19.5, width:765, height:327.5, show:true, borderColor:frame, borderWidth:1.5, backgroundColor:'#fff', containLabel:false},
    {left:948.3, top:15, width:768.7, height:329.3, show:true, borderColor:frame, borderWidth:1.5, backgroundColor:'#fff', containLabel:false}
  ],
  xAxis:[axis(0,-57.9,45.7,leftXTicks,18,11), axis(1,-53.25,58.6,rightXTicks,18.5,11)],
  yAxis:[axis(0,-62.7,60.3,leftYTicks,18,7), axis(1,-54.1,45.85,rightYTicks,18.5,7)],
  series:[...series(0,leftCrosses,leftCircles), ...series(1,rightCrosses,rightCircles)]
});
</script></body></html>
